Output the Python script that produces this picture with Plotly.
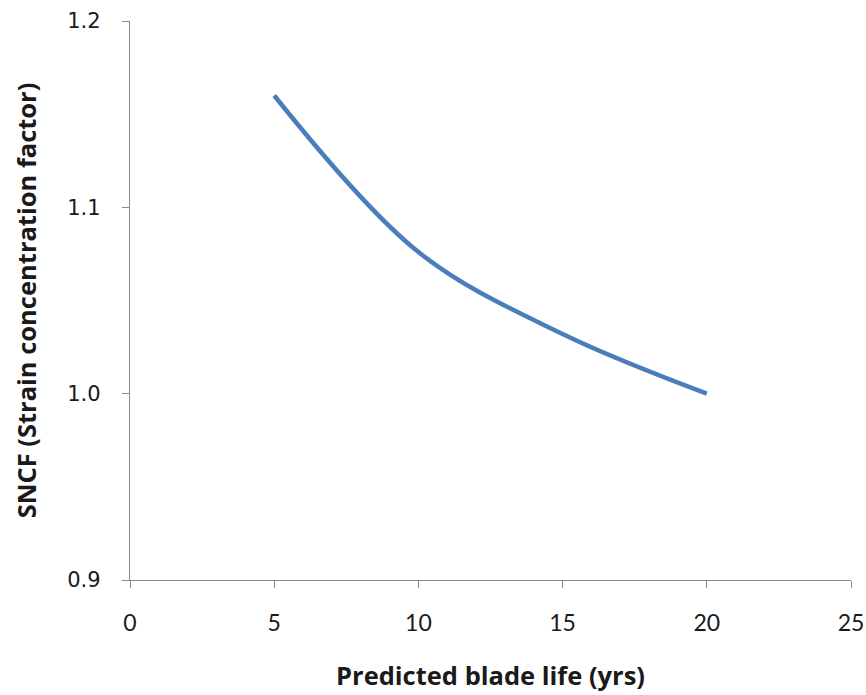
import plotly.graph_objects as go

life_years = [5, 10, 15, 20]
sncf = [1.16, 1.076, 1.032, 1.0]

x_ticks = [0, 5, 10, 15, 20, 25]
y_ticks = [0.9, 1.0, 1.1, 1.2]
y_tick_text = ["0.9", "1.0", "1.1", "1.2"]

fig = go.Figure()
fig.add_trace(go.Scatter(
    x=life_years, y=sncf, mode="lines",
    line=dict(color="#4a7ebb", width=4.5, shape="spline", smoothing=1.0),
    showlegend=False,
))

fig.update_layout(
    width=866, height=695,
    margin=dict(l=130, r=15, t=21, b=115),
    paper_bgcolor="white", plot_bgcolor="white",
    xaxis=dict(
        range=[0, 25], tickvals=x_ticks, showgrid=False, zeroline=False,
        automargin=False,
        showline=True, linecolor="#898989", linewidth=1.3,
        ticks="outside", ticklen=7, tickcolor="#898989",
        tickfont=dict(family="Lato", size=23, color="#1a1a1a"),
        ticklabelstandoff=15,
        title=dict(text="<b>Predicted blade life (yrs)</b>",
                   font=dict(family="Open Sans", size=25.5, color="#1a1a1a"), standoff=32),
    ),
    yaxis=dict(
        range=[0.9, 1.2], tickvals=y_ticks, ticktext=y_tick_text,
        showgrid=False, zeroline=False, automargin=False,
        showline=True, linecolor="#898989", linewidth=1.3,
        ticks="outside", ticklen=7, tickcolor="#898989",
        tickfont=dict(family="DejaVu Sans", size=21, color="#1a1a1a"),
        ticklabelstandoff=17,
        title=dict(text="<b>SNCF (Strain concentration factor)</b>",
                   font=dict(family="Open Sans", size=25.5, color="#1a1a1a"), standoff=23),
    ),
)

fig.write_html(
    "out.html",
    config={"displayModeBar": False},
    post_script="document.body.style.margin='0';document.body.style.overflow='hidden';",
)
